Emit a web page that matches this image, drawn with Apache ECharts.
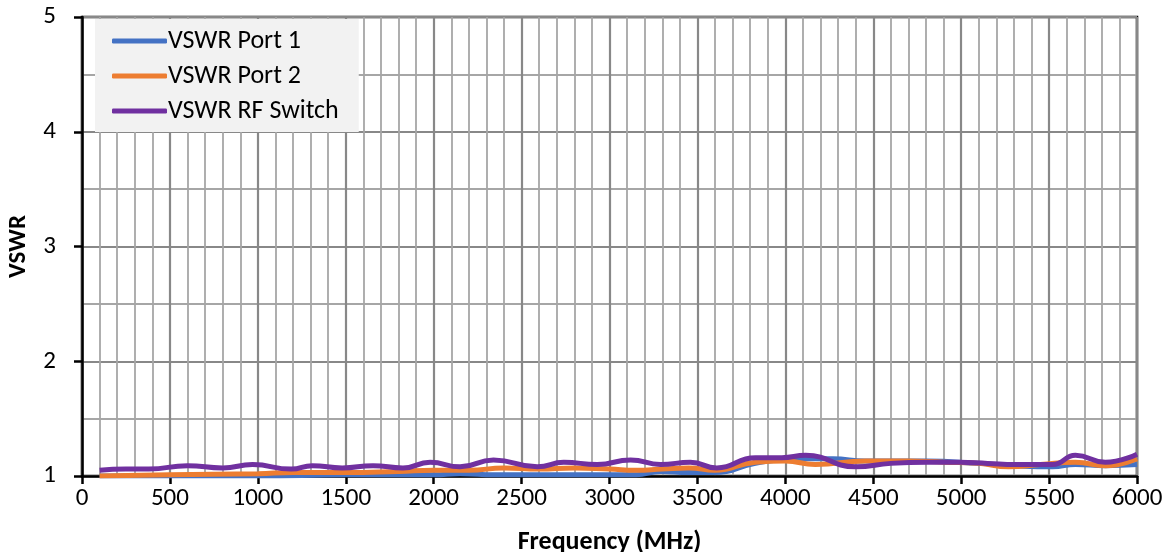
<!DOCTYPE html>
<html><head><meta charset="utf-8">
<script src="https://cdn.jsdelivr.net/npm/echarts@6/dist/echarts.min.js"></script>
<style>html,body{margin:0;padding:0;background:#fff}#c{width:1172px;height:552px}</style>
</head><body><div id="c"></div>
<script>
const seriesNames = ['VSWR Port 1', 'VSWR Port 2', 'VSWR RF Switch'];
const port1Freq = [100, 1000, 1500, 2000, 2150, 2350, 2600, 3000, 3150, 3290, 3450, 3600, 3830, 4070, 4270, 4455, 4800, 5100, 5300, 5520, 5650, 5820, 6000];
const port1Vswr = [1.00, 1.00, 1.01, 1.01, 1.02, 1.01, 1.01, 1.01, 1.01, 1.04, 1.03, 1.03, 1.11, 1.15, 1.15, 1.13, 1.13, 1.11, 1.09, 1.08, 1.10, 1.09, 1.10];
const port2Freq = [100, 500, 1000, 1200, 1500, 1800, 2000, 2200, 2400, 2600, 2800, 3000, 3150, 3300, 3450, 3600, 3830, 4000, 4170, 4455, 4700, 4900, 5100, 5270, 5450, 5650, 5820, 6000];
const port2Vswr = [1.00, 1.01, 1.02, 1.03, 1.03, 1.04, 1.05, 1.05, 1.07, 1.06, 1.07, 1.06, 1.05, 1.06, 1.07, 1.05, 1.12, 1.13, 1.10, 1.13, 1.13, 1.12, 1.11, 1.08, 1.10, 1.12, 1.09, 1.15];
const switchFreq = [100, 250, 380, 600, 800, 970, 1190, 1310, 1480, 1655, 1825, 1980, 2150, 2340, 2590, 2740, 2930, 3120, 3290, 3460, 3610, 3830, 3980, 4115, 4400, 4600, 4810, 4990, 5150, 5310, 5520, 5650, 5820, 6000];
const switchVswr = [1.05, 1.06, 1.06, 1.09, 1.07, 1.10, 1.06, 1.09, 1.07, 1.09, 1.07, 1.12, 1.08, 1.14, 1.08, 1.12, 1.10, 1.14, 1.10, 1.12, 1.07, 1.16, 1.16, 1.18, 1.08, 1.11, 1.12, 1.12, 1.11, 1.10, 1.10, 1.18, 1.12, 1.19];
const xTicks = {min: 0, max: 6000, step: 500};
const yTicks = {min: 1, max: 5, step: 1};
const colors = ['#4472C4', '#ED7D31', '#7030A0'];

const pairs = (f, v) => f.map((x, i) => [x, v[i]]);
const font = 'Carlito, Calibri, "Open Sans", "Noto Sans", sans-serif';
const chart = echarts.init(document.getElementById('c'));
chart.setOption({
  animation: false,
  color: colors,
  grid: {left: 82, right: 35, top: 17, bottom: 76, containLabel: false, outerBoundsMode: 'none', show: true, borderColor: '#000', borderWidth: 2.5, backgroundColor: 'transparent'},
  legend: {
    orient: 'vertical', left: 95, top: 19,
    padding: [9, 20, 8, 17],
    backgroundColor: '#f2f2f2',
    itemWidth: 55, itemHeight: 5, itemGap: 9,
    icon: 'roundRect',
    textStyle: {fontSize: 26, color: '#000', fontFamily: font, padding: [0, 0, 0, -4], width: 195},
    data: seriesNames
  },
  xAxis: {
    type: 'value', min: xTicks.min, max: xTicks.max, interval: xTicks.step,
    name: 'Frequency (MHz)', nameLocation: 'middle', nameGap: 53,
    nameTextStyle: {fontSize: 26, fontWeight: 'bold', color: '#000', fontFamily: font},
    axisLine: {show: true, lineStyle: {color: '#000', width: 2.5}},
    axisTick: {show: true, length: 8, lineStyle: {color: '#000', width: 2.5}},
    axisLabel: {fontSize: 25, color: '#000', fontFamily: font, margin: 10, formatter: v => String(v)},
    splitLine: {show: true, lineStyle: {color: '#888', width: 2.2}},
    minorTick: {show: false, splitNumber: 5},
    minorSplitLine: {show: true, lineStyle: {color: '#a6a6a6', width: 1.8}}
  },
  yAxis: {
    type: 'value', min: yTicks.min, max: yTicks.max, interval: yTicks.step,
    name: 'VSWR', nameLocation: 'middle', nameGap: 51, nameRotate: 90,
    nameTextStyle: {fontSize: 25, fontWeight: 'bold', color: '#000', fontFamily: font},
    axisLine: {show: true, lineStyle: {color: '#000', width: 2.5}},
    axisTick: {show: true, length: 8, lineStyle: {color: '#000', width: 2.5}},
    axisLabel: {fontSize: 25, color: '#000', fontFamily: font, margin: 26, formatter: v => String(v)},
    splitLine: {show: true, lineStyle: {color: '#888', width: 2.2}},
    minorTick: {show: false, splitNumber: 2},
    minorSplitLine: {show: true, lineStyle: {color: '#a6a6a6', width: 1.8}}
  },
  series: [
    {name: seriesNames[0], type: 'line', data: pairs(port1Freq, port1Vswr), smooth: 0.5, showSymbol: false, lineStyle: {width: 5}},
    {name: seriesNames[1], type: 'line', data: pairs(port2Freq, port2Vswr), smooth: 0.5, showSymbol: false, lineStyle: {width: 5}},
    {name: seriesNames[2], type: 'line', data: pairs(switchFreq, switchVswr), smooth: 0.5, showSymbol: false, lineStyle: {width: 5}}
  ]
});
</script></body></html>
